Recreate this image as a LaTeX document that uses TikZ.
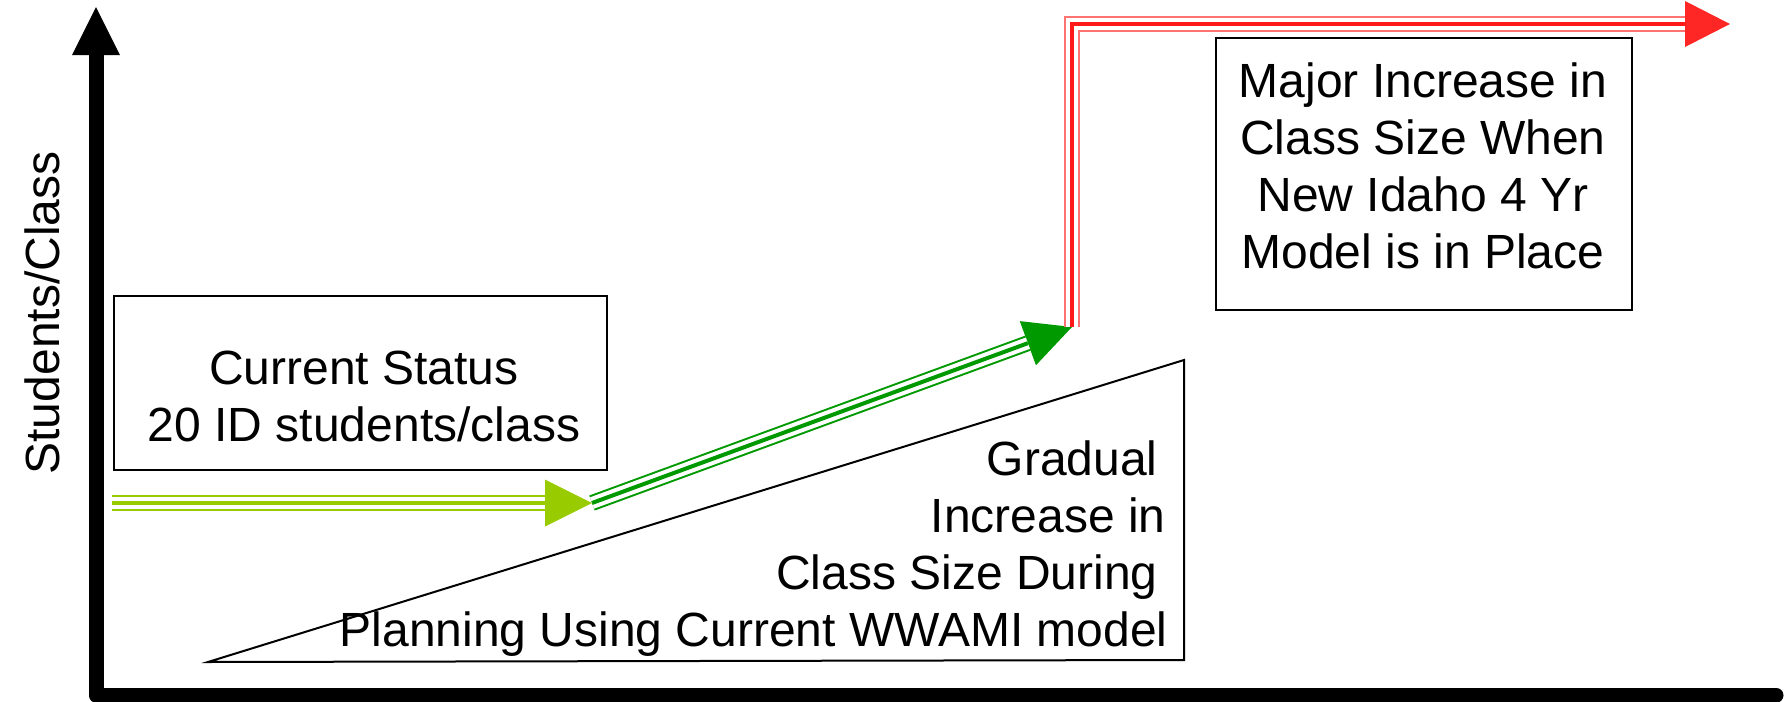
\documentclass[tikz,border=0pt]{standalone}
\usepackage{fontspec}
\setmainfont{Liberation Sans}
\usetikzlibrary{arrows.meta,calc}
\definecolor{lgreen}{HTML}{99CC00}
\definecolor{dgreen}{HTML}{009900}
\begin{document}
\begin{tikzpicture}[x=0.5pt,y=-0.5pt,
  lbl/.style={font=\fontsize{24pt}{28.5pt}\selectfont, inner sep=0pt, align=center},
  boxnode/.style={draw=black, line width=1pt, inner sep=0pt},
  outerl/.style={line width=8pt, line join=miter},
  gapl/.style={line width=6pt, white, line join=miter},
  corel/.style={line width=2pt, line join=miter},
  headtip/.style={-{Triangle[length=23.5pt,width=23.5pt,line width=0pt]}},
]
\useasboundingbox (0,0) rectangle (1785,702);

% axes
\coordinate (O) at (96,695);
\coordinate (XE) at (1776,695);
\coordinate (YT) at (96,7);
\draw[line width=7.5pt, line join=round, line cap=round,
  -{Triangle[length=24pt,width=24pt,line width=0pt]}] (XE) -- (O) -- (YT);

% axis label
\node[lbl, rotate=90] (ylab) at (42,313) {Students/Class};

% triangle
\coordinate (T1) at (208,662);
\coordinate (T2) at (1184,360);
\coordinate (T3) at (1184,660);
\draw[line width=1pt, line join=miter] (T1) -- (T2) -- (T3) -- cycle;

% boxes
\node[boxnode, minimum width=246.5pt, minimum height=87pt] (csbox) at (360.5,383) {};
\node[lbl] (cstext) at (364,396) {Current Status\\20 ID students/class};

\node[boxnode, minimum width=208pt, minimum height=136pt] (mbox) at (1424,174) {};
\node[lbl] (mtext) at (1423,166) {Major Increase in\\Class Size When\\New Idaho 4 Yr\\Model is in Place};

\node[lbl, align=right, anchor=east] (gtext) at (1168,549)
  {Gradual\hspace*{5pt}\mbox{}\\Increase in\hspace*{1pt}\mbox{}\\Class Size During\hspace*{5pt}\mbox{}\\Planning Using Current WWAMI model};

% arrow path points
\coordinate (L0) at (112,503);
\coordinate (L1) at (592,503);
\coordinate (D1) at (1072,327);
\coordinate (R1) at (1072,24);
\coordinate (R2) at (1730,24);

% dark green
\draw[outerl, dgreen, headtip] (L1) -- (D1);
\draw[gapl, shorten >=23.5pt] (L1) -- (D1);
\draw[corel, dgreen, shorten >=23.5pt] (L1) -- (D1);

% light green
\draw[outerl, lgreen, headtip] (L0) -- (L1);
\draw[gapl, shorten >=23.5pt] (L0) -- (L1);
\draw[corel, lgreen, shorten >=23.5pt] (L0) -- (L1);

% red
\draw[outerl, red!55, -{Triangle[length=22.5pt,width=23pt,line width=0pt,color=red!85]}] (D1) -- (R1) -- (R2);
\draw[gapl, shorten >=22.5pt] (D1) -- (R1) -- (R2);
\draw[corel, red!90, shorten >=22.5pt] (D1) -- (R1) -- (R2);
\end{tikzpicture}
\end{document}
